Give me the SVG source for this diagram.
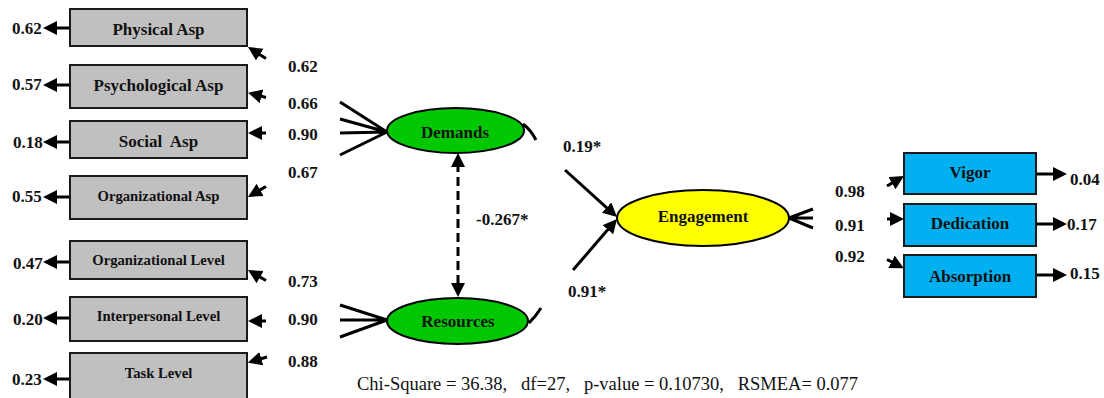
<svg xmlns="http://www.w3.org/2000/svg" width="1104" height="398" viewBox="0 0 1104 398">
<style>
.t{font-family:"Liberation Serif","Times New Roman",serif;font-weight:bold;font-size:17px;fill:#111}
.s{font-size:14.7px}
.c{text-anchor:middle}
.box{stroke:#1a1a1a;stroke-width:2}
.g{fill:#C0C0C0}
.b{fill:#00B0F0}
.ln{stroke:#000;stroke-width:3;fill:none}
.ar{stroke:#000;stroke-width:3;fill:none;marker-end:url(#ah)}
.el{stroke:#000;stroke-width:2}
.fit{font-family:"Liberation Serif","Times New Roman",serif;font-size:18.5px;fill:#111}
</style>
<defs>
<marker id="ah" markerUnits="userSpaceOnUse" markerWidth="16" markerHeight="16" refX="4" refY="7" orient="auto-start-reverse"><path d="M0,0 L14,7 L0,14 Z" fill="#000"/></marker>
</defs>
<g id="connectors">
<line class="ar" x1="70" y1="28" x2="53" y2="28"/>
<line class="ar" x1="70" y1="85" x2="53" y2="85"/>
<line class="ar" x1="70" y1="142" x2="53" y2="142"/>
<line class="ar" x1="70" y1="197" x2="53" y2="197"/>
<line class="ar" x1="70" y1="262" x2="53" y2="262"/>
<line class="ar" x1="70" y1="318" x2="53" y2="318"/>
<line class="ar" x1="72" y1="379" x2="53" y2="379"/>
<line class="ar" x1="266" y1="58.5" x2="256.4" y2="52.4"/>
<line class="ar" x1="266" y1="97.5" x2="257.7" y2="95.3"/>
<line class="ar" x1="266" y1="133" x2="258" y2="133"/>
<line class="ar" x1="266" y1="186.5" x2="256.6" y2="191.9"/>
<line class="ar" x1="266" y1="280.5" x2="256.6" y2="275.1"/>
<line class="ar" x1="266" y1="321" x2="258" y2="321"/>
<line class="ar" x1="267" y1="357" x2="257.5" y2="359.8"/>
<path class="ln" d="M340,102 L387,132 M340,119 L387,132 M340,133 L387,132 M340,155 L387,132"/>
<path class="ln" d="M340,305 L387,320 M340,320 L387,320 M340,337 L387,320"/>
<path class="ln" d="M523,124 Q531,130 536,140"/>
<path class="ln" d="M529,323 Q536,316 541,308"/>
<line x1="458" y1="163" x2="458" y2="287" stroke="#000" stroke-width="3" stroke-dasharray="9,5" marker-start="url(#ah)" marker-end="url(#ah)"/>
<line class="ar" x1="565" y1="170" x2="609.6" y2="210.3"/>
<line class="ar" x1="573" y1="270" x2="610.5" y2="226.6"/>
<path class="ln" d="M789,218 L813,209 M789,218 L813,218 M789,218 L813,228"/>
<line class="ar" x1="887" y1="186" x2="895.4" y2="181.1"/>
<line class="ar" x1="887" y1="219" x2="894" y2="219"/>
<line class="ar" x1="887" y1="259.5" x2="895" y2="263.7"/>
<line class="ar" x1="1036" y1="174" x2="1057" y2="174"/>
<line class="ar" x1="1036" y1="224" x2="1057" y2="224"/>
<line class="ar" x1="1036" y1="275" x2="1057" y2="275"/>
</g>
<g id="physical"><rect class="box g" x="70" y="9" width="177" height="37"/><text class="t c" x="158.5" y="35">Physical Asp</text></g>
<g id="psychological"><rect class="box g" x="70" y="65" width="177" height="43"/><text class="t c" x="158.5" y="91">Psychological Asp</text></g>
<g id="social"><rect class="box g" x="70" y="121" width="177" height="37"/><text class="t c" x="158.5" y="147" xml:space="preserve">Social  Asp</text></g>
<g id="organizational-asp"><rect class="box g" x="70" y="176" width="177" height="43"/><text class="t s c" x="158.5" y="201">Organizational Asp</text></g>
<g id="organizational-level"><rect class="box g" x="70" y="241" width="177" height="38"/><text class="t s c" x="158.5" y="265">Organizational Level</text></g>
<g id="interpersonal"><rect class="box g" x="70" y="297" width="177" height="44"/><text class="t s c" x="158.5" y="321">Interpersonal Level</text></g>
<g id="task"><rect class="box g" x="70" y="353" width="177" height="50"/><text class="t s c" x="158.5" y="378">Task Level</text></g>
<g id="error-labels-left">
<text class="t" x="12" y="34">0.62</text>
<text class="t" x="12" y="90">0.57</text>
<text class="t" x="13" y="148">0.18</text>
<text class="t" x="12" y="202">0.55</text>
<text class="t" x="13" y="269">0.47</text>
<text class="t" x="13" y="325">0.20</text>
<text class="t" x="12" y="385">0.23</text>
</g>
<g id="loading-labels">
<text class="t" x="288" y="72">0.62</text>
<text class="t" x="288" y="109">0.66</text>
<text class="t" x="288" y="140">0.90</text>
<text class="t" x="288" y="178">0.67</text>
<text class="t" x="288" y="287">0.73</text>
<text class="t" x="288" y="325">0.90</text>
<text class="t" x="288" y="367">0.88</text>
</g>
<g id="demands"><ellipse class="el" cx="455.5" cy="130.5" rx="68.5" ry="22.5" fill="#00C800"/><text class="t c" x="455" y="138">Demands</text></g>
<g id="resources"><ellipse class="el" cx="457.5" cy="321" rx="70.5" ry="23" fill="#00C800"/><text class="t c" x="458" y="327">Resources</text></g>
<g id="engagement"><ellipse class="el" cx="703" cy="218" rx="86" ry="28" fill="#FFFF00"/><text class="t c" x="703" y="222">Engagement</text></g>
<g id="path-labels">
<text class="t" x="476" y="225">-0.267*</text>
<text class="t" x="563" y="152">0.19*</text>
<text class="t" x="568" y="297">0.91*</text>
<text class="t" x="835" y="197">0.98</text>
<text class="t" x="835" y="231">0.91</text>
<text class="t" x="835" y="262">0.92</text>
<text class="t" x="1070" y="185">0.04</text>
<text class="t" x="1067" y="230">0.17</text>
<text class="t" x="1070" y="279">0.15</text>
</g>
<g id="vigor"><rect class="box b" x="904" y="153" width="132" height="41"/><text class="t c" x="970" y="178">Vigor</text></g>
<g id="dedication"><rect class="box b" x="904" y="204" width="132" height="42"/><text class="t c" x="970" y="229">Dedication</text></g>
<g id="absorption"><rect class="box b" x="904" y="255" width="132" height="42"/><text class="t c" x="970" y="282">Absorption</text></g>
<text class="fit" x="357" y="390" xml:space="preserve">Chi-Square = 36.38,   df=27,   p-value = 0.10730,   RSMEA= 0.077</text>
</svg>
